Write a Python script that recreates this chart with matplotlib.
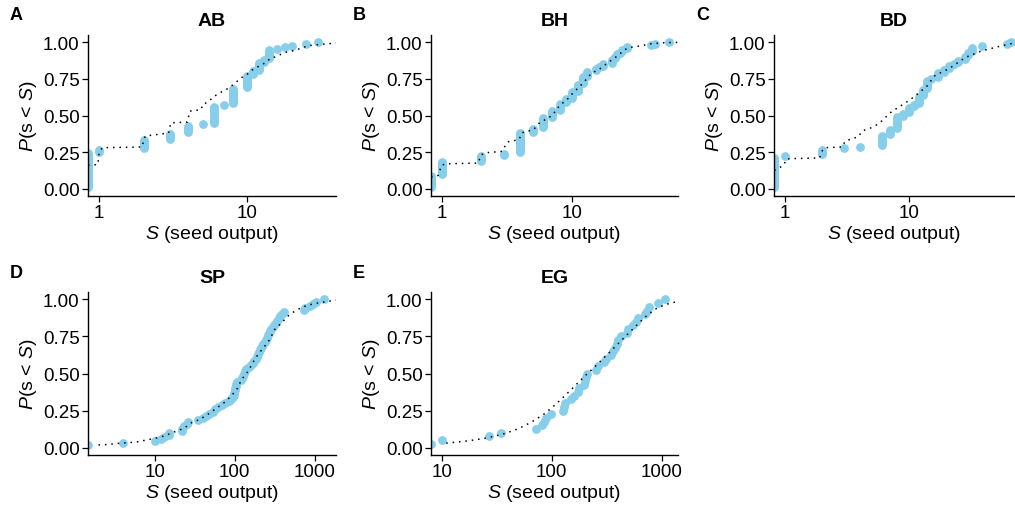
import numpy as np
import matplotlib
matplotlib.use("Agg")
import matplotlib.pyplot as plt

plt.rcParams['font.family'] = ['Liberation Sans', 'DejaVu Sans']
plt.rcParams['mathtext.fontset'] = 'custom'
plt.rcParams['mathtext.rm'] = 'Liberation Sans'
plt.rcParams['mathtext.it'] = 'Liberation Sans:italic'

# observed seed output: unique values and how many plants had that value (0 = none)
ab_vals = [0, 1, 2, 3, 4, 5, 6, 7, 8, 10, 11, 12, 13, 14, 16, 18, 20, 25, 30]
ab_counts = [22, 2, 6, 4, 5, 1, 11, 1, 10, 8, 3, 5, 2, 6, 1, 1, 1, 1, 1]

bh_vals = [0, 1, 2, 3, 4, 5, 6, 7, 8, 9, 10, 11, 12, 13, 15, 16, 17, 20, 21, 22, 23, 24, 26, 40, 43, 55]
bh_counts = [9, 9, 4, 2, 14, 3, 7, 5, 5, 3, 5, 5, 5, 4, 2, 1, 2, 3, 2, 2, 1, 2, 2, 1, 1, 1]

bd_vals = [0, 1, 2, 3, 4, 6, 7, 8, 9, 10, 11, 12, 13, 14, 15, 17, 19, 21, 23, 25, 28, 30, 32, 39, 62, 66]
bd_counts = [17, 1, 3, 1, 1, 6, 3, 7, 2, 3, 2, 4, 4, 5, 1, 3, 2, 2, 1, 2, 2, 2, 3, 1, 1, 1]

sp_vals = [0, 4, 10, 12, 13, 15, 15, 22, 22, 23, 25, 26, 35, 40, 44, 48, 53, 57, 62, 70,
           75, 85, 90, 95, 97, 99, 100, 102, 103, 104, 106, 118, 122, 126, 130, 134, 140,
           152, 160, 168, 175, 182, 188, 195, 200, 206, 212, 220, 228, 236, 244, 250, 258,
           266, 275, 285, 298, 312, 325, 340, 355, 370, 390, 410, 740, 760, 880, 950, 1050, 1330]
sp_counts = [1] * len(sp_vals)

eg_vals = [0, 10, 27, 35, 72, 82, 85, 88, 98, 128, 130, 133, 150, 160, 172, 176, 195, 200,
           205, 210, 252, 262, 302, 312, 350, 365, 378, 390, 405, 430, 480, 500, 550, 580,
           605, 710, 740, 770, 930, 1070]
eg_counts = [1] * len(eg_vals)

# fitted distribution curves
ab_fit_x = [0.84, 0.98, 1.0, 1.05, 1.95, 2.0, 2.05, 2.95, 3.05, 3.95, 4.1, 4.9, 5.0, 5.4, 6.0,
            6.4, 7.0, 7.6, 8.25, 9.5, 10, 10.8, 11.7, 13.3, 14.4, 15.5, 18, 20, 22.5, 26, 30, 40]
ab_fit_y = [0.16, 0.165, 0.25, 0.28, 0.285, 0.33, 0.36, 0.38, 0.45, 0.455, 0.53, 0.54, 0.575,
            0.59, 0.63, 0.65, 0.67, 0.69, 0.72, 0.77, 0.78, 0.81, 0.83, 0.86, 0.89, 0.90, 0.93,
            0.94, 0.955, 0.977, 0.984, 0.995]

bh_fit_x = [0.83, 0.94, 1.0, 1.08, 1.9, 2.0, 2.15, 2.9, 3.05, 3.2, 3.9, 4.1, 4.3, 5, 5.6, 6, 7,
            8, 9, 10, 12, 14, 16, 18, 20, 22.3, 25, 28, 34, 40, 50, 64]
bh_fit_y = [0.08, 0.09, 0.16, 0.17, 0.175, 0.23, 0.245, 0.255, 0.29, 0.32, 0.335, 0.38, 0.39,
            0.40, 0.45, 0.465, 0.50, 0.57, 0.605, 0.65, 0.72, 0.79, 0.815, 0.85, 0.88, 0.91,
            0.95, 0.966, 0.977, 0.99, 0.997, 1.0]

bd_fit_x = [0.82, 0.98, 1.02, 1.1, 1.9, 2.0, 2.1, 2.9, 3.05, 3.9, 4.2, 5.1, 5.8, 7.2, 8.7, 10.1,
            11.8, 13.9, 16, 17.7, 21, 25.5, 29, 38, 52, 70]
bd_fit_y = [0.125, 0.16, 0.20, 0.205, 0.21, 0.26, 0.28, 0.285, 0.325, 0.355, 0.395, 0.42, 0.45,
            0.525, 0.57, 0.605, 0.65, 0.70, 0.77, 0.79, 0.82, 0.87, 0.90, 0.94, 0.97, 0.995]

sp_fit_x = [1.95, 2.4, 3.0, 3.8, 4.9, 6.2, 7.9, 10, 13.3, 17.8, 23, 29, 36.5, 46, 59, 75, 91,
            108, 121, 147, 169, 195, 237, 275, 316, 383, 464, 562, 714, 905, 1210, 1860]
sp_fit_y = [0.018, 0.02, 0.025, 0.03, 0.034, 0.04, 0.052, 0.063, 0.08, 0.108, 0.13, 0.17, 0.19,
            0.225, 0.266, 0.307, 0.35, 0.40, 0.458, 0.515, 0.575, 0.628, 0.684, 0.73, 0.797,
            0.84, 0.887, 0.92, 0.95, 0.966, 0.98, 0.995]

eg_fit_x = [11, 13.2, 16.3, 20, 24.8, 30.6, 37.7, 46.5, 57, 70.5, 87, 107, 132, 163, 201, 247,
            305, 376, 464, 572, 705, 868, 1070, 1410]
eg_fit_y = [0.03, 0.036, 0.043, 0.052, 0.063, 0.078, 0.096, 0.119, 0.148, 0.186, 0.231, 0.287,
            0.35, 0.417, 0.484, 0.545, 0.612, 0.679, 0.747, 0.814, 0.88, 0.933, 0.964, 0.987]

panels = [
    ("A", "AB", ab_vals, ab_counts, ab_fit_x, ab_fit_y, (0.84, 40), [1, 10], [88, 36, 248, 161]),
    ("B", "BH", bh_vals, bh_counts, bh_fit_x, bh_fit_y, (0.83, 64), [1, 10], [431, 36, 247, 161]),
    ("C", "BD", bd_vals, bd_counts, bd_fit_x, bd_fit_y, (0.816, 70), [1, 10], [774, 36, 240, 161]),
    ("D", "SP", sp_vals, sp_counts, sp_fit_x, sp_fit_y, (1.44, 1860), [10, 100, 1000], [88, 293, 248, 163]),
    ("E", "EG", eg_vals, eg_counts, eg_fit_x, eg_fit_y, (8.0, 1410), [10, 100, 1000], [431, 293, 247, 163]),
]

W, H = 1015, 506
fig = plt.figure(figsize=(W / 100, H / 100), dpi=100)

for letter, title, vals, counts, fx, fy, xlim, xticks, box in panels:
    l, t, w, h = box
    ax = fig.add_axes([l / W, 1 - (t + h) / H, w / W, h / H])

    s = np.repeat(np.array(vals, dtype=float), counts)
    s = np.sort(s)
    p = np.arange(1, len(s) + 1) / len(s)
    # zeros sit at -Inf on the log axis -> drawn on the panel edge
    s_plot = np.where(s > 0, s, xlim[0])

    ax.scatter(s_plot, p, s=40, color='#87CEEB', linewidths=0, zorder=2)
    ax.plot(fx, fy, color='black', linestyle=(0, (1, 3.2)), linewidth=1.1, zorder=3)

    ax.set_xscale('log')
    ax.set_xlim(*xlim)
    ax.set_ylim(-0.05, 1.05)
    ax.set_xticks(xticks)
    ax.set_xticklabels([str(v) for v in xticks])
    ax.xaxis.set_minor_locator(matplotlib.ticker.NullLocator())
    ax.set_yticks([0, 0.25, 0.5, 0.75, 1.0])
    ax.set_yticklabels(["0.00", "0.25", "0.50", "0.75", "1.00"])

    for side in ['top', 'right']:
        ax.spines[side].set_visible(False)
    for side in ['left', 'bottom']:
        ax.spines[side].set_linewidth(1.0)
    ax.tick_params(length=4, width=0.9, labelsize=13.5, pad=2, colors='black')

    ax.set_xlabel(r'$S$ (seed output)', fontsize=14, labelpad=1)
    ax.set_ylabel(r'$P$(s < $S$)', fontsize=14, labelpad=3)
    ax.set_title(title, fontsize=14, fontweight='bold', pad=7)

    fig.text((l - 78) / W, 1 - (t - 20) / H, letter, fontsize=13, fontweight='bold',
             ha='left', va='center')

fig.savefig("out.png", dpi=100)
